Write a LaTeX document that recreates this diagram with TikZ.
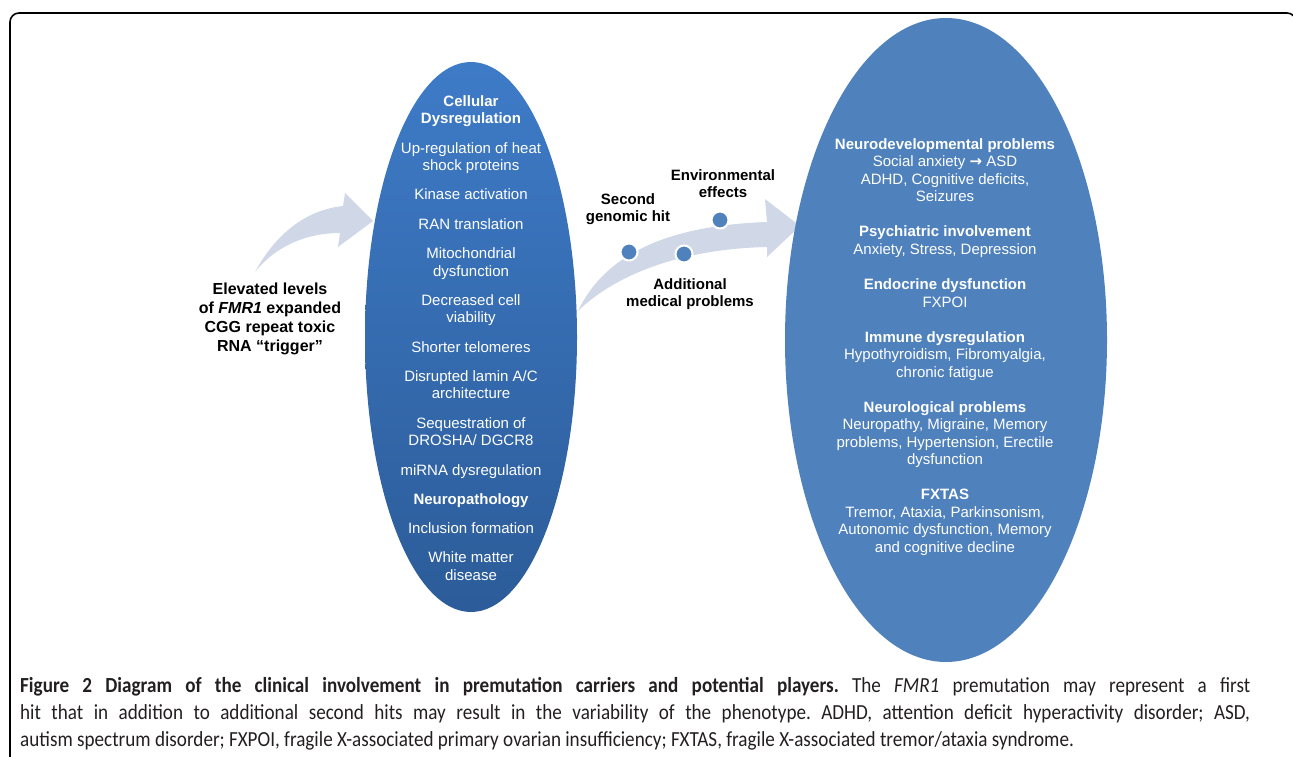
\documentclass[tikz,border=0pt]{standalone}
\usepackage{fontspec}
\setmainfont{Liberation Sans}
\newfontfamily\arrowfont{DejaVu Sans}
\newfontfamily\capfont[FakeStretch=0.89]{Carlito}
\usetikzlibrary{shapes.geometric}

\definecolor{celltop}{RGB}{62,123,199}
\definecolor{cellbottom}{RGB}{44,92,153}
\definecolor{outblue}{RGB}{79,129,189}
\definecolor{arrowgrey}{RGB}{208,216,232}
\definecolor{capgrey}{RGB}{35,31,32}

\begin{document}
\begin{tikzpicture}[
      x=1pt, y=-1pt,
      oval/.style={ellipse, inner sep=0pt, draw=none},
      ovaltext/.style={
        align=center, text=white,
        font=\fontsize{15}{17.5}\selectfont
      },
      hitlabel/.style={align=center, font=\bfseries\fontsize{15}{17}\selectfont},
      hitdot/.style={
        circle, fill=outblue, draw=white, line width=2pt,
        minimum size=17pt, inner sep=0pt
      },
      bigarrow/.style={fill=arrowgrey, draw=none}
    ]
    \useasboundingbox (0,0) rectangle (1293,757);

    % frame round figure and caption
    \draw[line width=1.6pt, rounded corners=9pt]
        (10,800) -- (10,13) -- (1296,13) -- (1296,800);

    % block arrows (drawn first so the ovals sit on top of them)
    \fill[bigarrow] (255,272) .. controls (275,235) and (305,210) .. (343,206)
        -- (345,193) -- (373,221) -- (338,247) -- (340,233)
        .. controls (305,233) and (275,247) .. cycle;
    \fill[bigarrow] (578,311) .. controls (600,265) and (650,226) .. (767,222)
        -- (765,199) -- (800,226) -- (767,257) -- (767,247)
        .. controls (680,249) and (615,275) .. cycle;

    % trigger text on the left
    \node[align=center, font=\bfseries\fontsize{16}{19}\selectfont] (trigger) at (270,319) {%
        Elevated levels\\
        of \textit{FMR1} expanded\\
        CGG repeat toxic\\
        RNA “trigger”};

    % first oval: cellular effects
    \node[oval, top color=celltop, bottom color=cellbottom,
          minimum width=212pt, minimum height=550pt] (cell) at (471,337) {};
    \node[ovaltext] (celltxt) at (471,338) {%
        \textbf{Cellular}\\ \textbf{Dysregulation}\\[11.8pt]
        Up-regulation of heat\\ shock proteins\\[11.8pt]
        Kinase activation\\[11.8pt]
        RAN translation\\[11.8pt]
        Mitochondrial\\ dysfunction\\[11.8pt]
        Decreased cell\\ viability\\[11.8pt]
        Shorter telomeres\\[11.8pt]
        Disrupted lamin A/C\\ architecture\\[11.8pt]
        Sequestration of\\ DROSHA/ DGCR8\\[11.8pt]
        miRNA dysregulation\\[11.8pt]
        \textbf{Neuropathology}\\[11.8pt]
        Inclusion formation\\[11.8pt]
        White matter\\ disease};

    % second oval: clinical involvement
    \node[oval, fill=outblue, minimum width=322pt, minimum height=644pt] (clinic) at (946,340) {};
    \node[ovaltext] (clinictxt) at (945,347) {%
        \textbf{Neurodevelopmental problems}\\
        Social anxiety {\arrowfont\bfseries →} ASD\\
        ADHD, Cognitive deficits,\\
        Seizures\\[17.6pt]
        \textbf{Psychiatric involvement}\\
        Anxiety, Stress, Depression\\[17.6pt]
        \textbf{Endocrine dysfunction}\\
        FXPOI\\[17.6pt]
        \textbf{Immune dysregulation}\\
        Hypothyroidism, Fibromyalgia,\\
        chronic fatigue\\[17.6pt]
        \textbf{Neurological problems}\\
        Neuropathy, Migraine, Memory\\
        problems, Hypertension, Erectile\\
        dysfunction\\[17.6pt]
        \textbf{FXTAS}\\
        Tremor, Ataxia, Parkinsonism,\\
        Autonomic dysfunction, Memory\\
        and cognitive decline};

    % second hits on the arrow
    \node[hitdot] (hitgen) at (629,252) {};
    \node[hitdot] (hitmed) at (684,254) {};
    \node[hitdot] (hitenv) at (720,220) {};
    \node[hitlabel] (genlbl) at (628,209) {Second\\ genomic hit};
    \node[hitlabel] (envlbl) at (723,184) {Environmental\\ effects};
    \node[hitlabel] (medlbl) at (690,294) {Additional\\ medical problems};

    % caption
    \node[anchor=north west, inner sep=0pt, text width=1230pt, align=justify,
          text=capgrey, font=\capfont\fontsize{21.5}{27.3}\selectfont\frenchspacing] (caption) at (20,677) {%
        \textbf{Figure 2 Diagram of the clinical involvement in premutation carriers and potential players.} The \textit{FMR1} premutation may represent a first\linebreak
        hit that in addition to additional second hits may result in the variability of the phenotype. ADHD, attention deficit hyperactivity disorder; ASD,\linebreak
        autism spectrum disorder; FXPOI, fragile X-associated primary ovarian insufficiency; FXTAS, fragile X-associated tremor/ataxia syndrome.};
\end{tikzpicture}
\end{document}
